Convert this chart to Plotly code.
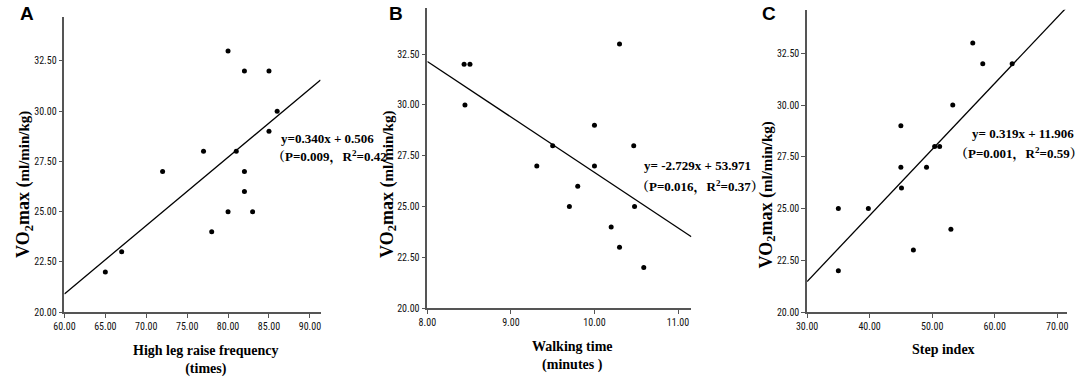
import plotly.graph_objects as go

W, H = 1084, 388

# ---- data ----
a_x = [65, 67, 72, 77, 78, 80, 80, 81, 82, 82, 82, 83, 85, 85, 86]
a_y = [22, 23, 27, 28, 24, 33, 25, 28, 32, 27, 26, 25, 32, 29, 30]
a_fit = (0.340, 0.506)

b_x = [8.44, 8.51, 8.45, 9.31, 9.5, 9.7, 9.8, 10.0, 10.0, 10.2, 10.3, 10.3, 10.47, 10.48, 10.59]
b_y = [32, 32, 30, 27, 28, 25, 26, 29, 27, 24, 33, 23, 28, 25, 22]
b_fit = (-2.729, 53.971)

c_x = [35, 35, 39.8, 45, 45, 45.1, 47, 49.1, 50.4, 51.2, 53, 53.3, 56.5, 58.1, 62.8]
c_y = [25, 22, 25, 29, 27, 26, 23, 27, 28, 28, 24, 30, 33, 32, 32]
c_fit = (0.319, 11.906)

a_xticks = [60, 65, 70, 75, 80, 85, 90]
b_xticks = [8, 9, 10, 11]
c_xticks = [30, 40, 50, 60, 70]
y_ticks = [20, 22.5, 25, 27.5, 30, 32.5]

titles_x = ["<b>High leg raise frequency</b><br><b>(times)</b>",
            "<b>Walking time</b><br><b>(minutes )</b>",
            "<b>Step index</b>"]
eq_text = ["y=0.340x + 0.506", "y= -2.729x + 53.971", "y= 0.319x + 11.906"]
stat_text = ["（P=0.009，R<sup>2</sup>=0.42", "（P=0.016，R<sup>2</sup>=0.37）", "（P=0.001，R<sup>2</sup>=0.59）"]
panel_letters = ["A", "B", "C"]


def px(x):
    return x / W


def py(y):
    return 1 - y / H


panels = [
    dict(x=a_x, y=a_y, fit=a_fit, xr=[60, 91.3], yr=[20, 34.7], xt=a_xticks,
         dom_x=(54, 313), dom_y=(317, 17)),
    dict(x=b_x, y=b_y, fit=b_fit, xr=[8, 11.16], yr=[20, 34.78], xt=b_xticks,
         dom_x=(421, 688), dom_y=(313, 8)),
    dict(x=c_x, y=c_y, fit=c_fit, xr=[30, 71.6], yr=[20, 34.6], xt=c_xticks,
         dom_x=(805, 1068), dom_y=(317, 10)),
]

fig = go.Figure()
tick_font = dict(family="Liberation Sans Narrow, Arial Narrow, Roboto Condensed, Liberation Sans, Arial",
                 size=10, color="#111")
serif = "Liberation Serif, Times New Roman, Noto Serif CJK SC, Noto Sans CJK SC, serif"

layout = dict(width=W, height=H, margin=dict(l=0, r=0, t=0, b=0),
              paper_bgcolor="white", plot_bgcolor="white", showlegend=False)

for i, p in enumerate(panels):
    n = "" if i == 0 else str(i + 1)
    xa, ya = "x" + n, "y" + n
    fig.add_trace(go.Scatter(x=p["x"], y=p["y"], mode="markers", xaxis=xa, yaxis=ya,
                             marker=dict(color="black", size=5)))
    k, b = p["fit"]
    lx = [p["xr"][0], p["xr"][1]]
    ly = [k * v + b for v in lx]
    fig.add_trace(go.Scatter(x=lx, y=ly, mode="lines", xaxis=xa, yaxis=ya,
                             line=dict(color="black", width=1.3)))
    common = dict(showgrid=False, zeroline=False, showline=True, linecolor="#555",
                  linewidth=1.6, ticks="outside", ticklen=4, tickcolor="#555",
                  tickwidth=1.2, tickfont=tick_font, tickformat=".2f")
    layout["xaxis" + n] = dict(common, domain=[px(p["dom_x"][0]), px(p["dom_x"][1])],
                               range=p["xr"], tickvals=p["xt"], anchor=ya)
    layout["yaxis" + n] = dict(common, domain=[py(p["dom_y"][0]), py(p["dom_y"][1])],
                               range=p["yr"], tickvals=y_ticks, anchor=xa)

fig.update_layout(**layout)

ann = []
base = dict(xref="paper", yref="paper", showarrow=False)
# panel letters
for (lx_, ly_), t in zip([(16, 14), (389, 14), (766, 14)], panel_letters):
    ann.append(dict(base, x=px(lx_), y=py(ly_), text="<b>%s</b>" % t,
                    font=dict(family="Liberation Sans, Arial", size=19, color="black"),
                    xanchor="center", yanchor="middle"))
# y-axis titles
ytitle = ("<b>VO<sub>2</sub>max (</b><b><span style='font-size:15px'>ml/min/kg)</span></b>")
for (tx, ty) in [(13, 187), (381, 187), (765, 198)]:
    ann.append(dict(base, x=px(tx), y=py(ty), text=ytitle, textangle=-90,
                    font=dict(family=serif, size=18, color="black"),
                    xanchor="center", yanchor="middle"))
# x-axis titles
for (tx, ty), t in zip([(197, 366), (568, 362), (943, 355)], titles_x):
    ann.append(dict(base, x=px(tx), y=py(ty), text=t,
                    font=dict(family=serif, size=14, color="black"),
                    xanchor="center", yanchor="middle"))
# regression equations
for (tx, ty), t in zip([(271, 141), (638, 168), (970, 136)], eq_text):
    ann.append(dict(base, x=px(tx), y=py(ty), text="<b>%s</b>" % t,
                    font=dict(family=serif, size=13, color="black"),
                    xanchor="left", yanchor="middle"))
for (tx, ty), t in zip([(262, 159), (630, 189), (953, 156)], stat_text):
    ann.append(dict(base, x=px(tx), y=py(ty), text="<b>%s</b>" % t,
                    font=dict(family=serif, size=13, color="black"),
                    xanchor="left", yanchor="middle"))

fig.update_layout(annotations=ann)
fig.write_html("out.html", config={"displayModeBar": False},
               post_script="document.body.style.margin='0px';")
